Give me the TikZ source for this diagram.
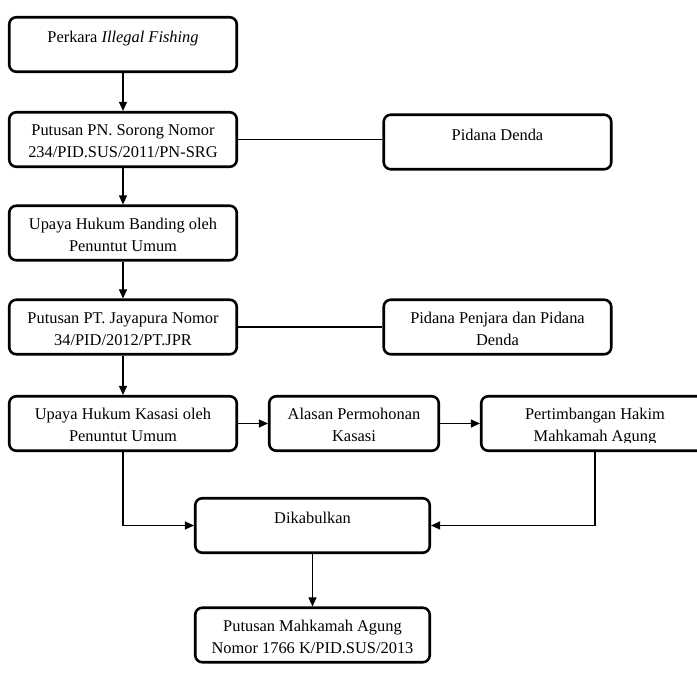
\documentclass[tikz,border=0pt]{standalone}
\usepackage{fontspec}
\setmainfont{Liberation Serif}
\usetikzlibrary{arrows.meta}
\newcommand\twol[2]{\rule{0pt}{19pt}#1\\#2\rule[-4pt]{0pt}{4pt}}
\newcommand\onel[1]{\rule{0pt}{12pt}#1\rule[-15pt]{0pt}{15pt}}
\begin{document}
\begin{tikzpicture}[x=1pt,y=-1pt,
  fbox/.style={draw, line width=2.6pt, rounded corners=7pt, align=center, inner sep=0pt,
    font=\fontsize{16.4}{22}\selectfont, minimum height=54.5pt},
  wide/.style={fbox, minimum width=227.5pt},
  txt/.style={align=center, inner sep=0pt, font=\fontsize{16.4}{22}\selectfont},
  conn/.style={line width=1.2pt},
  arr/.style={conn, -{Triangle[length=9pt,width=8pt]}}]
\useasboundingbox (0,0) rectangle (697,692);
\node[wide] (perkara) at (123,44.5) {\onel{Perkara \textit{Illegal Fishing}}};
\node[wide] (pn) at (123,139.5) {\twol{Putusan PN. Sorong Nomor}{234/PID.SUS/2011/PN-SRG}};
\node[wide] (banding) at (123,233) {\twol{Upaya Hukum Banding oleh}{Penuntut Umum}};
\node[wide] (pt) at (123,327) {\twol{Putusan PT. Jayapura Nomor}{34/PID/2012/PT.JPR}};
\node[wide] (denda) at (497.5,142) {\onel{Pidana Denda}};
\node[wide] (penjara) at (497.5,327) {\twol{Pidana Penjara dan Pidana}{Denda}};
\node[wide] (kasasi) at (123,423.5) {\twol{Upaya Hukum Kasasi oleh}{Penuntut Umum}};
\node[fbox, minimum width=169.5pt] (alasan) at (354,423.5) {\twol{Alasan Permohonan}{Kasasi}};
\begin{scope}
  \clip (480,395) rectangle (710,443);
  \node[txt, minimum height=54.5pt] (pertxt) at (595,423.5) {\twol{Pertimbangan Hakim}{Mahkamah Agung}};
\end{scope}
\node[wide] (pertimbangan) at (595,423.5) {};
\node[fbox, minimum width=234.5pt] (dikabulkan) at (312.5,525.5) {\onel{Dikabulkan}};
\node[fbox, minimum width=234.5pt] (ma) at (312.5,635) {\twol{Putusan Mahkamah Agung}{Nomor 1766 K/PID.SUS/2013}};

\draw[arr] (perkara) -- (pn);
\draw[arr] (pn) -- (banding);
\draw[arr] (banding) -- (pt);
\draw[arr] (pt) -- (kasasi);
\draw[conn] (pn.east) -- (pn.east -| denda.west);
\draw[conn] (pt.east) -- (penjara.west);
\draw[arr] (kasasi) -- (alasan);
\draw[arr] (alasan) -- (pertimbangan);
\draw[arr] (kasasi.south) |- (dikabulkan.west);
\draw[arr] (pertimbangan.south) |- (dikabulkan.east);
\draw[arr] (dikabulkan) -- (ma);
\end{tikzpicture}
\end{document}
